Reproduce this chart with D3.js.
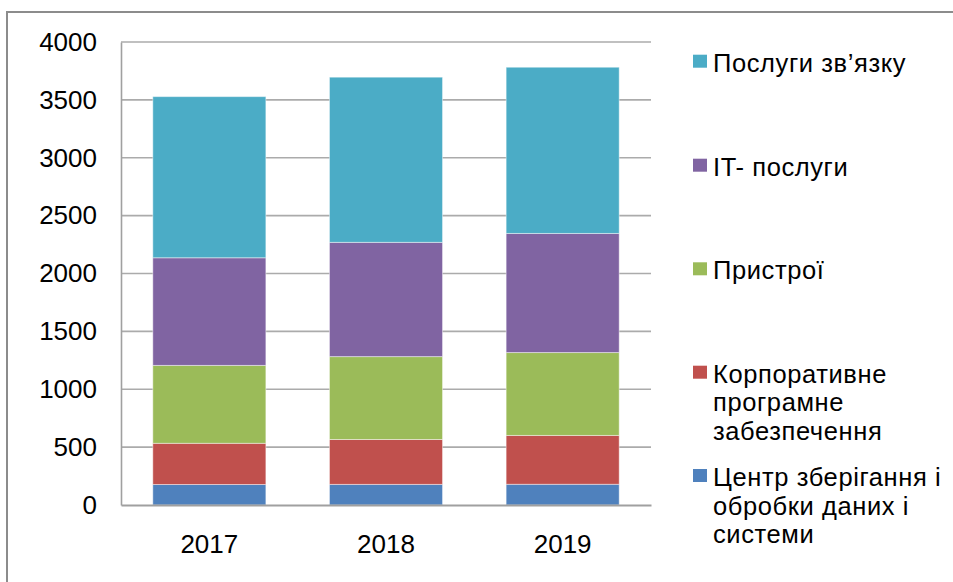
<!DOCTYPE html>
<html>
<head>
<meta charset="utf-8">
<script src="https://cdn.jsdelivr.net/npm/d3@7"></script>
<style>
  body { margin: 0; background: #fff; }
  svg { display: block; font-family: "Liberation Sans", Arial, sans-serif; }
</style>
</head>
<body>
<div id="chart"></div>
<script>
// Data
const years = ["2017", "2018", "2019"]
const dataCenter = [177, 178, 179]
const software = [356, 388, 422]
const devices = [673, 716, 716]
const itServices = [930, 987, 1029]
const communications = [1392, 1427, 1436]

const seriesKeys = ["dataCenter", "software", "devices", "itServices", "communications"]
const seriesValues = [dataCenter, software, devices, itServices, communications]
const seriesColors = ["#4F81BD", "#C0504D", "#9BBB59", "#8064A2", "#4BACC6"]
// legend labels, already broken into lines as in the picture
const seriesLabels = [
  ["Центр зберігання і", "обробки даних і", "системи"],
  ["Корпоративне", "програмне", "забезпечення"],
  ["Пристрої"],
  ["IT- послуги"],
  ["Послуги зв’язку"]
]
const yTicks = [0, 500, 1000, 1500, 2000, 2500, 3000, 3500, 4000]

const width = 953
const height = 582
const marginLeft = 121
const plotRight = 651
const plotTop = 42
const plotBottom = 505

// table for d3.stack
const table = years.map((year, i) => {
  const row = { year }
  seriesKeys.forEach((k, j) => row[k] = seriesValues[j][i])
  return row
})
const stacked = d3.stack().keys(seriesKeys)(table)

const x = d3.scaleBand()
  .domain(years)
  .range([marginLeft, plotRight])
  .paddingInner(0.36)
  .paddingOuter(0.18)

const y = d3.scaleLinear()
  .domain([0, 4000])
  .range([plotBottom, plotTop])

const svg = d3.select("#chart")
  .append("svg")
  .attr("width", width)
  .attr("height", height)

// outer frame (only top and left edges are visible)
svg.append("rect")
  .attr("x", 7)
  .attr("y", 12)
  .attr("width", width + 20)
  .attr("height", height + 20)
  .attr("fill", "#fff")
  .attr("stroke", "#8c8c8c")
  .attr("stroke-width", 2)

// gridlines
svg.append("g")
  .selectAll("line")
  .data(yTicks.filter(d => d > 0))
  .join("line")
  .attr("x1", marginLeft)
  .attr("x2", plotRight)
  .attr("y1", d => y(d))
  .attr("y2", d => y(d))
  .attr("stroke", "#ababab")
  .attr("stroke-width", 1.6)

// y axis labels
const yAxis = svg.append("g")
  .attr("transform", `translate(${marginLeft},0)`)
  .call(d3.axisLeft(y).tickValues(yTicks).tickSize(0).tickPadding(24).tickFormat(d3.format("d")))
yAxis.select(".domain").attr("stroke", "#a0a0a0").attr("stroke-width", 1.6)
yAxis.selectAll("text")
  .attr("font-size", 26)
  .attr("font-family", "Liberation Sans, Arial, sans-serif")
  .attr("fill", "#000")

// bars
svg.append("g")
  .selectAll("g")
  .data(stacked)
  .join("g")
  .attr("fill", (d, i) => seriesColors[i])
  .selectAll("rect")
  .data(d => d)
  .join("rect")
  .attr("x", d => x(d.data.year))
  .attr("y", d => y(d[1]))
  .attr("width", x.bandwidth())
  .attr("height", d => y(d[0]) - y(d[1]))
  .attr("stroke", "rgba(255,255,255,0.45)")
  .attr("stroke-width", 1)

// x axis
const xAxis = svg.append("g")
  .attr("transform", `translate(0,${plotBottom})`)
  .call(d3.axisBottom(x).tickSize(0).tickPadding(30))
xAxis.select(".domain").attr("stroke", "#a0a0a0").attr("stroke-width", 2)
xAxis.selectAll("text")
  .attr("font-size", 26)
  .attr("font-family", "Liberation Sans, Arial, sans-serif")
  .attr("fill", "#000")

// legend, top entry is the top series
const legendBaselines = [486, 382.7, 279.3, 175.7, 71.7]
const lineGap = 28.7
const legend = svg.append("g")
  .selectAll("g")
  .data(seriesLabels)
  .join("g")
  .attr("transform", (d, i) => `translate(693,${legendBaselines[i]})`)

legend.append("rect")
  .attr("x", 0)
  .attr("y", -17)
  .attr("width", 14)
  .attr("height", 13)
  .attr("fill", (d, i) => seriesColors[i])

legend.append("text")
  .attr("x", 20)
  .attr("font-size", 25.5)
  .attr("letter-spacing", 0.6)
  .attr("fill", "#000")
  .selectAll("tspan")
  .data(d => d)
  .join("tspan")
  .attr("x", 20)
  .attr("y", (d, i) => i * lineGap)
  .text(d => d)
</script>
</body>
</html>
